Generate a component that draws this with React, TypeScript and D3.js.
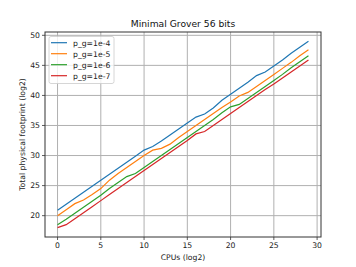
import React from 'react';
import * as d3 from 'd3';

const cpus = d3.range(0, 30);
const seriesNames = ['p_g=1e-4', 'p_g=1e-5', 'p_g=1e-6', 'p_g=1e-7'];
const colors = ['#1f77b4', '#ff7f0e', '#2ca02c', '#d62728'];

const pg4 = [20.9, 21.9, 22.9, 23.9, 24.9, 25.9, 26.9, 27.9, 28.9, 29.9, 30.9, 31.5, 32.4, 33.4, 34.4, 35.4, 36.4, 36.9, 37.9, 39.2, 40.2, 41.2, 42.2, 43.3, 43.9, 44.9, 45.9, 47.0, 48.0, 49.0];
const pg5 = [20.0, 21.0, 22.0, 22.6, 23.5, 24.5, 25.9, 27.0, 28.0, 29.0, 30.0, 30.9, 31.2, 31.9, 33.0, 34.0, 35.0, 36.0, 37.0, 38.0, 38.9, 39.9, 40.5, 41.5, 42.5, 43.5, 44.5, 45.5, 46.6, 47.6];
const pg6 = [18.5, 19.4, 20.4, 21.4, 22.4, 23.4, 24.5, 25.5, 26.5, 27.0, 28.0, 29.0, 30.0, 31.0, 32.0, 33.0, 34.0, 35.0, 36.0, 37.1, 38.1, 38.5, 39.5, 40.5, 41.5, 42.5, 43.5, 44.6, 45.6, 46.6];
const pg7 = [18.0, 18.5, 19.5, 20.5, 21.5, 22.5, 23.5, 24.5, 25.5, 26.5, 27.5, 28.5, 29.5, 30.5, 31.5, 32.5, 33.6, 34.0, 35.0, 36.0, 37.0, 38.0, 39.0, 40.0, 41.0, 41.9, 42.9, 43.9, 44.9, 45.9];
const allSeries = [pg4, pg5, pg6, pg7];

const xTicks = [0, 5, 10, 15, 20, 25, 30];
const yTicks = [20, 25, 30, 35, 40, 45, 50];

const width = 356;
const height = 267;
const margin = { top: 32, right: 35, bottom: 30, left: 45 };
const font = 'DejaVu Sans, sans-serif';

export default function App() {
  const x = d3.scaleLinear()
    .domain([-1.45, 30.45])
    .range([margin.left, width - margin.right]);
  const y = d3.scaleLinear()
    .domain([16.45, 50.55])
    .range([height - margin.bottom, margin.top]);

  const line = d3.line<number>()
    .x((_, i) => x(cpus[i]))
    .y(d => y(d));

  const x0 = margin.left, x1 = width - margin.right;
  const y0 = height - margin.bottom, y1 = margin.top;

  return (
    <svg width={width} height={height} style={{ position: 'absolute', left: 0, top: 0, background: '#fff' }} fontFamily={font}>
      <rect width={width} height={height} fill="#fff" />
      {/* grid */}
      {xTicks.map(t => (
        <line key={'gx' + t} x1={x(t)} x2={x(t)} y1={y1} y2={y0} stroke="#b0b0b0" strokeWidth={1} />
      ))}
      {yTicks.map(t => (
        <line key={'gy' + t} x1={x0} x2={x1} y1={y(t)} y2={y(t)} stroke="#b0b0b0" strokeWidth={1} />
      ))}

      {/* lines */}
      {allSeries.map((s, i) => (
        <path key={i} d={line(s) || ''} fill="none" stroke={colors[i]} strokeWidth={1.2} />
      ))}

      {/* frame */}
      <rect x={x0} y={y1} width={x1 - x0} height={y0 - y1} fill="none" stroke="#333" strokeWidth={1} />

      {/* x axis ticks */}
      {xTicks.map(t => (
        <g key={'tx' + t}>
          <line x1={x(t)} x2={x(t)} y1={y0} y2={y0 + 3} stroke="#333" strokeWidth={0.8} />
          <text x={x(t)} y={y0 + 11} textAnchor="middle" fontSize={7.7} fill="#222">{t}</text>
        </g>
      ))}
      {yTicks.map(t => (
        <g key={'ty' + t}>
          <line x1={x0 - 3} x2={x0} y1={y(t)} y2={y(t)} stroke="#333" strokeWidth={0.8} />
          <text x={x0 - 5} y={y(t) + 2.8} textAnchor="end" fontSize={7.7} fill="#222">{t}</text>
        </g>
      ))}

      <text x={(x0 + x1) / 2} y={27} textAnchor="middle" fontSize={9.2} fill="#111">Minimal Grover 56 bits</text>
      <text x={(x0 + x1) / 2} y={259.5} textAnchor="middle" fontSize={7.7} fill="#222">CPUs (log2)</text>
      <text transform={`translate(25,${(y0 + y1) / 2}) rotate(-90)`} textAnchor="middle" fontSize={7.7} fill="#222">Total physical footprint (log2)</text>

      {/* legend */}
      <rect x={49} y={36.5} width={65} height={47} rx={2} fill="#fff" fillOpacity={0.8} stroke="#ccc" strokeWidth={0.8} />
      {seriesNames.map((n, i) => (
        <g key={'lg' + i}>
          <line x1={51} x2={67} y1={42.7 + i * 11} y2={42.7 + i * 11} stroke={colors[i]} strokeWidth={1.2} />
          <text x={73} y={42.7 + i * 11 + 2.8} fontSize={7.7} fill="#222">{n}</text>
        </g>
      ))}
    </svg>
  );
}
